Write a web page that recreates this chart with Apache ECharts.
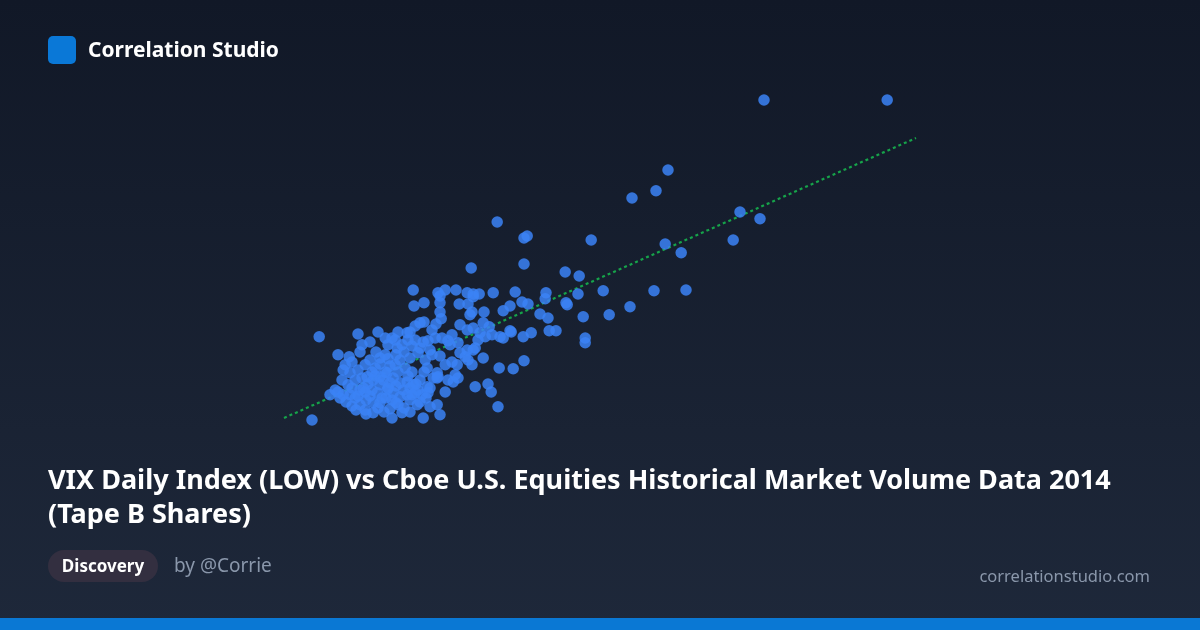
<!DOCTYPE html>
<html>
<head>
<meta charset="utf-8">
<script src="https://cdn.jsdelivr.net/npm/echarts@6/dist/echarts.min.js"></script>
<style>
html,body{margin:0;padding:0;background:#111827;}
#chart{width:1200px;height:630px;}
</style>
</head>
<body>
<div id="chart"></div>
<script>
// VIX daily LOW (x) vs Tape B volume, millions of shares (y)
const vixLow = [
22.1,25.18,19.7,19.4,18.8,21.5,22.0,15.43,16.18,16.1,17.78,19.63,21.33,20.03,16.1,14.78,17.13,17.48,18.08,19.35,
20.15,18.75,18.23,17.58,17.45,16.65,16.63,17.18,17.15,16.5,16.7,17.63,17.63,16.73,16.9,10.98,15.75,16.28,16.08,16.1,
15.48,15.83,14.88,15.2,15.28,15.45,10.8,11.25,13.33,13.6,13.35,13.95,14.0,14.13,14.0,14.0,14.03,14.4,14.68,14.83,
14.98,14.83,15.33,15.88,14.48,14.7,14.8,14.75,15.1,15.58,15.75,16.05,16.2,13.6,13.5,13.38,13.25,13.18,11.95,12.45,
12.25,12.05,12.0,12.8,12.88,12.7,12.93,13.38,13.58,13.7,13.88,14.05,14.2,14.5,14.68,14.83,15.0,15.13,15.3,15.5,
15.58,15.78,11.45,11.73,12.25,12.5,12.7,13.0,13.25,13.45,13.68,13.93,13.93,14.25,14.5,14.68,14.83,15.08,14.88,14.63,
14.3,14.43,14.8,11.58,11.75,11.55,11.7,11.88,11.45,11.58,11.75,12.18,12.33,12.5,12.68,12.83,13.0,13.18,13.33,13.5,
13.68,13.83,13.95,12.08,12.3,12.43,12.68,12.83,13.0,13.18,13.38,13.55,13.7,12.0,12.33,12.5,12.75,13.05,12.33,13.58,
14.0,13.75,13.93,14.13,14.33,14.45,14.7,12.13,12.38,12.63,12.88,13.13,13.3,12.5,12.75,12.25,12.55,12.0,11.88,12.15,
12.8,13.25,13.45,13.63,13.8,13.1,12.9,13.3,13.5,13.75,14.0,14.13,13.75,14.38,14.2,11.8,11.9,12.13,12.6,12.95,
13.25,13.43,15.08,15.23,12.4,12.63,
11.63,11.8,11.95,12.05,12.2,12.38,12.58,12.7,12.9,13.08,13.25,13.4,13.6,13.2,12.95,12.75,12.5,12.3,12.13,11.95,
11.65,11.8,11.5,11.38,12.65,12.9,13.1,12.45,12.15,12.8,13.3,13.5,13.65,13.05,13.2,12.95,12.63,13.8,13.9,14.3,
14.45,14.95
];
const tapeBVolume = [
1625,1625,1450,1398,1380,1345,1328,1320,1285,1280,1275,1265,1275,1243,1215,1205,1195,1185,1148,1148,
1150,1108,1088,1083,1140,1143,1128,1113,1118,1090,1080,1030,1018,1048,1048,1033,1048,1043,1033,973,
955,953,908,915,895,858,825,888,1150,1118,1110,1143,1135,1150,1118,1095,1078,1150,1143,1140,
1140,1133,1143,1145,1115,1115,1095,1088,1095,1098,1110,1120,1115,1070,1068,1060,1045,1043,1040,1045,
1020,1013,995,1030,1025,1013,1005,1025,1020,1023,1030,1030,1023,1063,1050,1055,1043,1033,1038,1033,
1030,1045,988,983,975,980,978,975,980,993,955,943,930,1013,993,1000,1000,980,1005,983,
970,963,963,950,943,925,913,925,895,888,888,933,925,933,943,930,918,920,913,925,
908,930,933,905,900,893,900,893,883,888,893,888,893,863,868,868,853,843,843,830,
838,858,863,895,920,930,975,963,955,945,963,955,945,913,918,885,880,900,880,875,
875,875,900,975,988,995,988,1010,1005,1000,985,963,905,938,925,905,850,850,845,863,
845,863,1068,1058,995,988,
963,970,950,930,915,935,925,905,910,900,905,915,945,935,945,960,965,945,895,885,
870,860,880,900,880,868,855,855,840,830,888,870,880,1013,1025,1045,1030,1050,1065,1038,
1018,1025
];
// trend line end points
const trendX = [10.1, 25.9];
const trendY = [830, 1530];

const points = vixLow.map((v, i) => [v, tapeBVolume[i]]);
const trend = trendX.map((v, i) => [v, trendY[i]]);

const FONT = '"Noto Sans", "Open Sans", sans-serif';
const chart = echarts.init(document.getElementById('chart'), null, {renderer: 'canvas'});
chart.setOption({
  animation: false,
  backgroundColor: {
    type: 'linear', x: 0, y: 0, x2: 0, y2: 1,
    colorStops: [{offset: 0, color: '#111827'}, {offset: 1, color: '#1e283a'}]
  },
  grid: {left: 280, right: 280, top: 90, bottom: 200},
  xAxis: {type: 'value', min: 10, max: 26, show: false},
  yAxis: {type: 'value', min: 800, max: 1650, show: false},
  series: [
    {
      type: 'line', data: trend, symbol: 'none', silent: true, z: 1,
      lineStyle: {color: '#16a34a', width: 2.2, type: [3, 3]}
    },
    {
      type: 'scatter', data: points, symbolSize: 11.5, z: 2,
      itemStyle: {color: '#3b82f6', opacity: 0.85}
    }
  ],
  graphic: [
    {type: 'rect', left: 48, top: 36, shape: {width: 28, height: 28, r: 5}, style: {fill: '#0a78d7'}},
    {type: 'text', x: 88, y: 51, style: {text: 'Correlation Studio', fill: '#ffffff', font: 'bold 21px ' + FONT, verticalAlign: 'middle'}},
    {type: 'text', left: 48, top: 464, style: {text: 'VIX Daily Index (LOW) vs Cboe U.S. Equities Historical Market Volume Data 2014\n(Tape B Shares)', fill: '#ffffff', font: 'bold 27px ' + FONT, lineHeight: 34}},
    {type: 'rect', left: 48, top: 550, shape: {width: 110, height: 32, r: 16}, style: {fill: '#332f40'}},
    {type: 'text', x: 103, y: 567, style: {text: 'Discovery', fill: '#ffffff', font: 'bold 17px ' + FONT, align: 'center', verticalAlign: 'middle'}},
    {type: 'text', x: 174, y: 567, style: {text: 'by @Corrie', fill: '#8a97ab', font: '19px ' + FONT, verticalAlign: 'middle'}},
    {type: 'text', x: 1150, y: 577, style: {text: 'correlationstudio.com', fill: '#8a97ab', font: '16.5px ' + FONT, align: 'right', verticalAlign: 'middle'}},
    {type: 'rect', left: 0, top: 618, shape: {width: 1200, height: 12}, style: {fill: '#0a78d4'}}
  ]
});
</script>
</body>
</html>
